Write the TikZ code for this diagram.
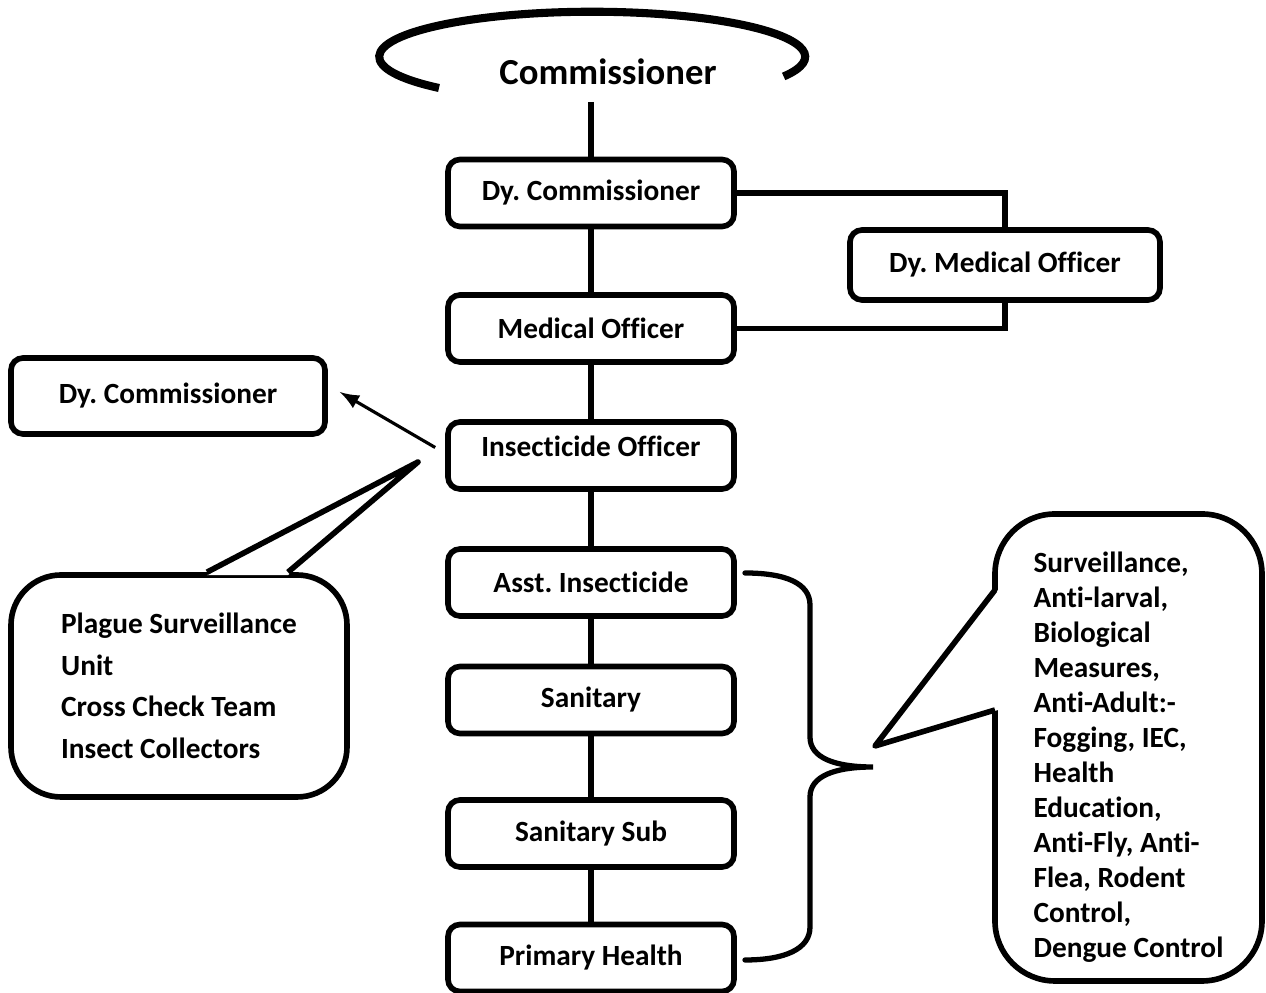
\documentclass[tikz,border=0pt]{standalone}
\usepackage{fontspec}
\setmainfont{Carlito}[Ligatures=NoCommon]
\frenchspacing
\usetikzlibrary{calc}
\newcommand{\orgfont}{\fontsize{8.34}{10}\selectfont\bfseries}
\newcommand{\headfont}{\fontsize{10.44}{12}\selectfont\bfseries}
\tikzset{
	box/.style={draw, rounded corners=0.12cm, inner sep=0pt,
		minimum width=2.86cm, minimum height=0.67cm, font=\orgfont},
	bubble/.style={draw, align=left, inner sep=0pt}
}

\begin{document}
\begin{tikzpicture}[line width=1.6pt]
	\useasboundingbox (0,0) rectangle (12.66,9.93);

	% top
	\draw[line width=2.3pt] (4.39,9.05) arc[start angle=224, end angle=-26, x radius=2.13cm, y radius=0.45cm];
	\node at (6.08,9.21)(comm){\headfont Commissioner};
	\coordinate (ctop) at (5.91,8.91);

	% main column
	\node[box] at (5.91,8.00)(dc){Dy. Commissioner};
	\node[box] at (5.91,6.645)(mo){Medical Officer};
	\node[box, text depth=0.18cm] at (5.91,5.375)(io){Insecticide Officer};
	\node[box] at (5.91,4.105)(ai){Asst. Insecticide};
	\node[box] at (5.91,2.93)(san){Sanitary};
	\node[box] at (5.91,1.595)(ss){Sanitary Sub};
	\node[box] at (5.91,0.35)(ph){Primary Health};
	\path (ctop) edge (dc) (dc) edge (mo) (mo) edge (io)
		(io) edge (ai) (ai) edge (san) (san) edge (ss) (ss) edge (ph);

	% side boxes
	\node[box, minimum width=3.10cm, minimum height=0.70cm] at (10.05,7.28)(dmo){Dy. Medical Officer};
	\draw (dc.east) -| (dmo.north);
	\draw (mo.east) -| (dmo.south);
	\node[box, minimum width=3.14cm, minimum height=0.76cm] at (1.68,5.97)(ldc){Dy. Commissioner};
	\draw[-latex, line width=0.9pt] ($(io.west)+(-0.1,0.08)$) -- ($(ldc.east)+(0.12,0.04)$);

	% left bubble
	\node[bubble, rounded corners=0.5cm, minimum width=3.36cm, minimum height=2.22cm,
		font=\fontsize{8.34}{11.84}\selectfont\bfseries] at (1.79,3.07)(psu)
		{Plague Surveillance\\Unit\\Cross Check Team\\Insect Collectors};
	\coordinate (ptip) at (4.18,5.31);
	\fill[white] ($(psu.north)+(0.28,-0.03)$) -- (ptip) -- ($(psu.north)+(1.09,-0.03)$) -- cycle;
	\draw[line join=round] ($(psu.north)+(0.28,0)$) -- (ptip) -- ($(psu.north)+(1.09,0)$);

	% brace
	\draw[line width=1.5pt, line cap=round]
		(7.45,4.20) .. controls (7.85,4.20) and (8.10,4.10) .. (8.10,3.88) -- (8.10,2.56)
		.. controls (8.10,2.35) and (8.35,2.26) .. (8.73,2.26)
		.. controls (8.35,2.26) and (8.10,2.17) .. (8.10,1.96) -- (8.10,0.66)
		.. controls (8.10,0.44) and (7.85,0.33) .. (7.45,0.33);

	% right bubble
	\node[bubble, rounded corners=0.6cm, minimum width=2.67cm, minimum height=4.67cm,
		font=\fontsize{8.34}{9.96}\selectfont\bfseries] at (11.285,2.455)(vc)
		{\rule{0pt}{0.4cm}Surveillance,\\Anti-larval,\\Biological\\Measures,\\Anti-Adult:-\\Fogging, IEC,\\Health\\Education,\\Anti-Fly, Anti-\\Flea, Rodent\\Control,\\Dengue Control};
	\coordinate (vtip) at (8.75,2.47);
	\fill[white] (9.98,4.03) -- (vtip) -- (9.98,2.83) -- cycle;
	\draw[line join=round] (9.95,4.03) -- (vtip) -- (9.95,2.83);
\end{tikzpicture}
\end{document}
